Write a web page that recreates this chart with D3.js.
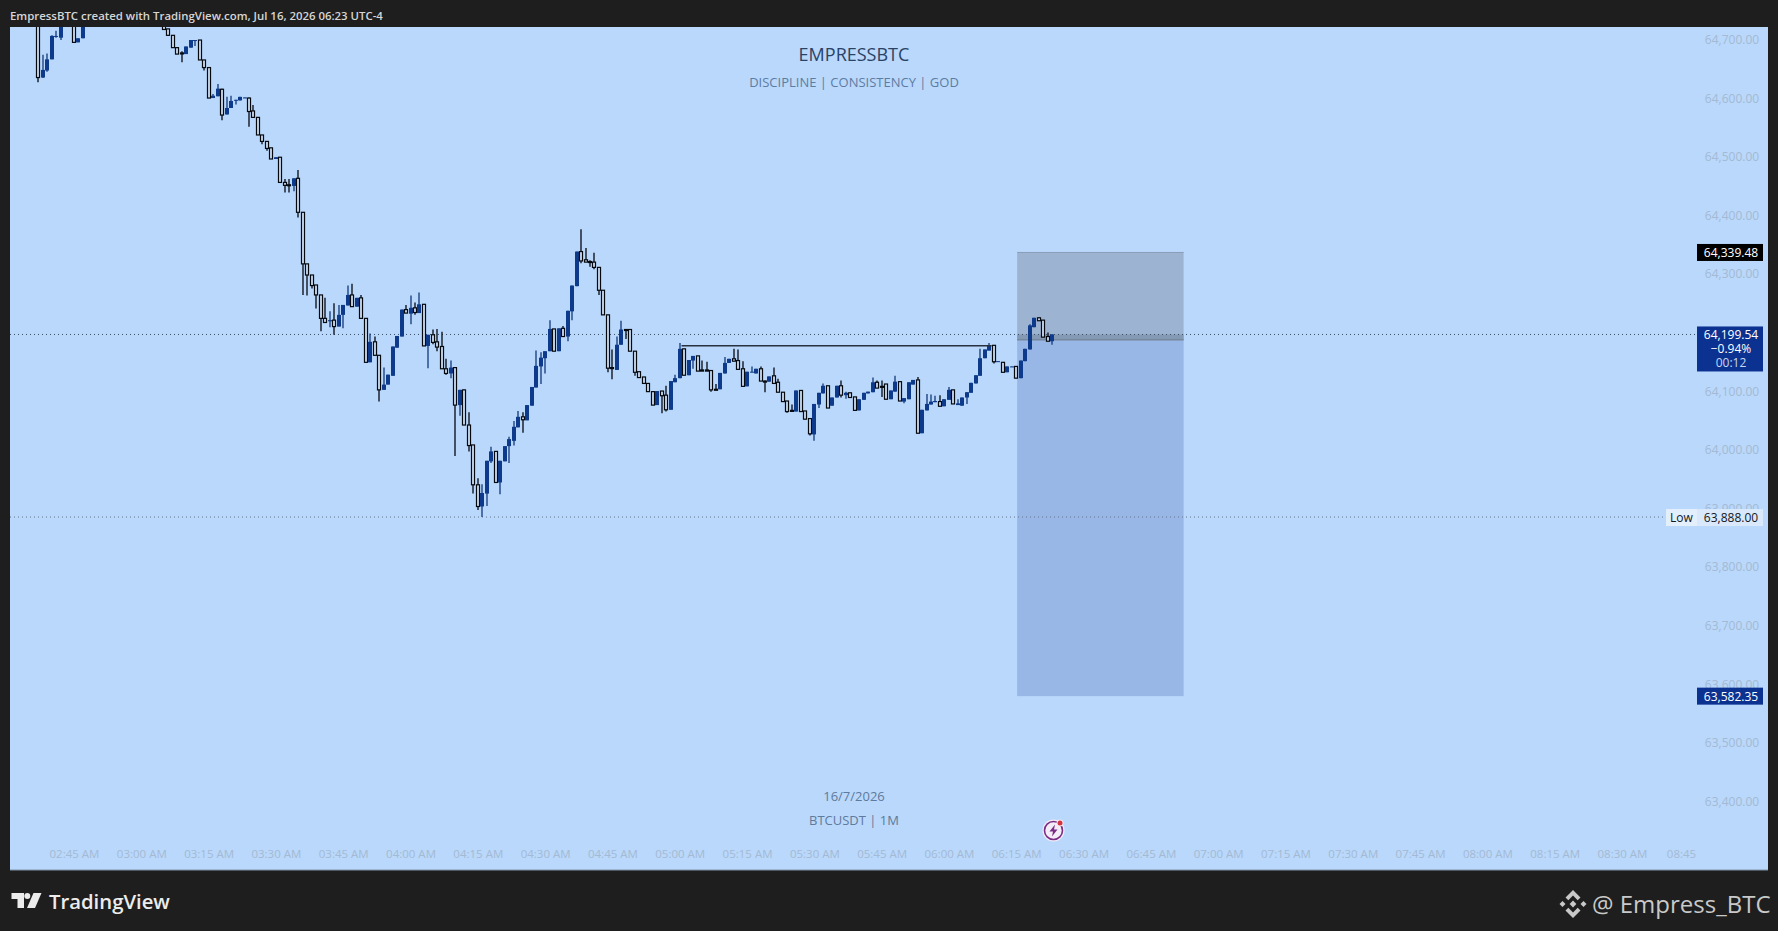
<!DOCTYPE html>
<html>
<head>
<meta charset="utf-8">
<script src="https://cdn.jsdelivr.net/npm/d3@7"></script>
<style>
  html, body { margin: 0; padding: 0; background: #1e1e1e; overflow: hidden; }
  svg { display: block; }
  text { font-family: "Open Sans", "Noto Sans", sans-serif; }
</style>
</head>
<body>
<div id="chart"></div>
<script>
// one entry per 1M candle, first one is 02:37 AM. null = above the visible area
var firstMinute = -8;

var opens = [64790,64638,64650,64669,64708,64706,null,null,64745,64698,64705,
  null,null,null,null,null,null,null,null,null,null,null,null,null,null,null,null,null,
  64735,64721,64710,64689,64680,64678,64689,64701,64702,64668,
  64655,64603,64606,64618,64575,64586,64599,64599,64603,64603,
  64581,64570,64540,64529,64518,64499,64502,64459,64455,64453,
  64466,64408,64320,64301,64284,64267,64227,64222,64224,64213,
  64233,64249,64267,64247,64262,64227,64152,64187,64164,64105,
  64114,64129,64177,64196,64242,64235,64245,64236,64251,64180,
  64199,64187,64179,64141,64133,64143,64079,64105,64045,64011,
  63943,63906,63928,63983,64000,63947,63983,64009,64018,64041,
  64059,64053,64078,64109,64145,64159,64171,64209,64171,64210,
  64196,64239,64282,64341,64327,64324,64323,64314,64275,64233,
  64143,64139,64182,64208,64208,64171,64136,64127,64116,64102,
  64079,64103,64096,64071,64118,64125,64175,64130,64155,64163,
  64139,64139,64138,64106,64106,64133,64151,64158,64155,64141,
  64111,64135,64133,64141,64120,64119,64129,64118,64101,64086,
  64070,64068,64104,64069,64056,64029,64080,64099,64112,64078,
  64092,64112,64096,64100,64093,64070,64088,64099,64101,64118,
  64111,64115,64089,64102,64119,64085,64089,64114,64122,64031,
  64070,64080,64084,64085,64077,64088,64105,64079,64078,64092,
  64100,64116,64129,64159,64172,64181,64153,64152,64135,64144,
  64145,64125,64154,64174,64212,64228,64224,64196,64188];

var highs = [64800,64677,64679,64710,64718,64735,null,null,64750,64705,64750,
  null,null,null,null,null,null,null,null,null,null,null,null,null,null,null,null,null,
  64740,64721,64710,64689,64683,64691,64702,64702,64702,64668,
  64655,64610,64627,64619,64605,64607,64600,64605,64604,64604,
  64591,64570,64540,64529,64518,64502,64502,64465,64465,64466,
  64480,64408,64320,64301,64284,64267,64262,64239,64253,64250,
  64250,64283,64286,64262,64267,64227,64201,64196,64164,64143,
  64131,64179,64197,64242,64250,64266,64254,64271,64251,64199,
  64208,64209,64204,64158,64155,64143,64105,64105,64067,64011,
  63954,63944,63984,64008,64000,63984,64009,64025,64052,64069,
  64067,64079,64110,64172,64169,64171,64224,64209,64210,64214,
  64240,64283,64341,64379,64347,64326,64339,64314,64275,64233,
  64174,64196,64223,64209,64208,64171,64136,64127,64116,64102,
  64103,64103,64112,64120,64131,64185,64175,64156,64163,64163,
  64155,64153,64138,64115,64134,64161,64158,64175,64174,64154,
  64136,64145,64141,64145,64121,64128,64143,64124,64101,64086,
  64080,64104,64104,64069,64056,64081,64100,64116,64112,64092,
  64112,64121,64102,64100,64093,64089,64100,64102,64126,64121,
  64121,64115,64104,64129,64119,64091,64118,64122,64127,64071,
  64098,64097,64095,64096,64089,64110,64105,64089,64092,64101,
  64117,64130,64175,64174,64185,64181,64154,64152,64145,64145,
  64145,64155,64175,64217,64228,64229,64224,64203,64200];

var lows = [64630,64637,64648,64669,64706,64702,null,null,64698,64698,64705,
  null,null,null,null,null,null,null,null,null,null,null,null,null,null,null,null,null,
  64720,64710,64689,64678,64664,64678,64689,64692,64668,64650,
  64603,64603,64606,64565,64575,64586,64592,64599,64603,64554,
  64570,64540,64524,64513,64499,64499,64459,64442,64442,64444,
  64399,64267,64266,64278,64244,64205,64220,64212,64199,64213,
  64210,64249,64247,64247,64227,64152,64152,64164,64085,64105,
  64114,64129,64177,64196,64236,64217,64233,64236,64180,64142,
  64183,64171,64141,64131,64125,63992,64061,64045,64000,63928,
  63900,63888,63907,63980,63947,63927,63983,63980,64010,64041,
  64032,64053,64078,64109,64115,64133,64171,64171,64171,64196,
  64188,64224,64282,64321,64323,64315,64311,64267,64233,64135,
  64123,64139,64182,64192,64171,64129,64126,64116,64102,64079,
  64079,64065,64068,64071,64118,64125,64130,64130,64141,64137,
  64137,64137,64102,64105,64106,64133,64151,64154,64140,64111,
  64111,64135,64133,64120,64101,64119,64116,64101,64085,64066,
  64068,64068,64068,64055,64027,64018,64074,64099,64074,64078,
  64092,64092,64090,64092,64070,64070,64088,64099,64101,64108,
  64093,64089,64089,64102,64086,64082,64089,64114,64031,64031,
  64070,64080,64084,64077,64077,64088,64081,64079,64078,64081,
  64100,64116,64129,64159,64172,64150,64153,64135,64135,64144,
  64125,64125,64154,64174,64212,64223,64195,64188,64182];

var closes = [64638,64651,64669,64709,64709,64729,null,null,64698,64705,64745,
  null,null,null,null,null,null,null,null,null,null,null,null,null,null,null,null,null,
  64720,64710,64689,64678,64680,64691,64702,64702,64668,64655,
  64603,64607,64619,64574,64586,64598,64600,64605,64604,64580,
  64570,64540,64529,64517,64499,64502,64459,64454,64455,64466,
  64408,64320,64301,64283,64267,64227,64220,64224,64213,64233,
  64250,64267,64247,64262,64227,64152,64187,64164,64105,64114,
  64131,64179,64197,64242,64236,64245,64237,64251,64180,64199,
  64186,64178,64141,64133,64143,64079,64105,64045,64010,63943,
  63906,63929,63984,64000,63947,63984,64009,64021,64042,64059,
  64054,64079,64110,64146,64160,64171,64209,64171,64210,64196,
  64240,64283,64341,64325,64323,64323,64314,64275,64233,64142,
  64142,64182,64208,64208,64171,64135,64126,64116,64102,64079,
  64103,64095,64071,64120,64125,64175,64130,64156,64163,64137,
  64137,64137,64105,64106,64134,64151,64158,64154,64140,64111,
  64136,64136,64141,64120,64120,64128,64116,64101,64085,64068,
  64069,64104,64068,64055,64030,64081,64100,64112,64074,64092,
  64112,64096,64100,64092,64070,64089,64100,64102,64118,64108,
  64110,64089,64104,64119,64086,64091,64118,64122,64031,64071,
  64081,64085,64086,64077,64089,64105,64081,64082,64092,64101,
  64117,64130,64159,64174,64181,64153,64154,64135,64145,64145,
  64125,64155,64175,64215,64228,64223,64195,64188,64199.54];

var priceTicks = [64700,64600,64500,64400,64300,64200,64100,64000,63900,63800,63700,63600,63500,63400];
// minutes after 02:45
var timeTicks = [0,15,30,45,60,75,90,105,120,135,150,165,180,195,210,225,240,255,270,285,300,315,330,345,360];
var timeLabels = ["02:45 AM","03:00 AM","03:15 AM","03:30 AM","03:45 AM","04:00 AM","04:15 AM","04:30 AM","04:45 AM",
  "05:00 AM","05:15 AM","05:30 AM","05:45 AM","06:00 AM","06:15 AM","06:30 AM","06:45 AM","07:00 AM","07:15 AM",
  "07:30 AM","07:45 AM","08:00 AM","08:15 AM","08:30 AM","08:45"];

var lastPrice = 64199.54;
var lowPrice = 63888.00;
var stopPrice = 64339.48;
var entryPrice = 64190.6;
var targetPrice = 63582.35;
var positionMinutes = [210.2, 247.3];
var levelPrice = 64180.4;
var levelMinutes = [135.4, 204.5];

var svgWidth = 1778;
var svgHeight = 931;
var panel = { left: 10, right: 1768, top: 27, bottom: 870 };

var svg = d3.select("#chart")
  .append("svg")
  .attr("width", svgWidth)
  .attr("height", svgHeight)
  .attr("viewBox", `0 0 ${svgWidth} ${svgHeight}`);

var xScale = d3.scaleLinear().domain([0, 345]).range([74, 1622]);
var yScale = d3.scaleLinear().domain([63400, 64700]).range([803, 41.2]);

svg.append("defs").append("clipPath")
  .attr("id", "panelClip")
  .append("rect")
  .attr("x", panel.left)
  .attr("y", panel.top)
  .attr("width", panel.right - panel.left)
  .attr("height", panel.bottom - panel.top);

// background panel
svg.append("rect")
  .attr("x", panel.left)
  .attr("y", panel.top)
  .attr("width", panel.right - panel.left)
  .attr("height", panel.bottom - panel.top)
  .attr("fill", "#b9d8fb");
svg.append("line")
  .attr("x1", panel.left).attr("x2", panel.right)
  .attr("y1", panel.bottom).attr("y2", panel.bottom)
  .attr("stroke", "#7f93a8");

// axes
var yAxis = d3.axisRight(yScale)
  .tickValues(priceTicks)
  .tickSize(0)
  .tickPadding(0)
  .tickFormat(d3.format(",.2f"));

var yGroup = svg.append("g")
  .attr("transform", "translate(1732, -1.5)")
  .call(yAxis);
yGroup.select(".domain").remove();
yGroup.selectAll("text")
  .attr("text-anchor", "middle")
  .attr("font-size", "12px")
  .attr("font-family", "'Open Sans', sans-serif")
  .attr("fill", "#a4b9d3");

var xAxis = d3.axisBottom(xScale)
  .tickValues(timeTicks)
  .tickSize(0)
  .tickPadding(0)
  .tickFormat(function(d, i) { return timeLabels[i]; });

var xGroup = svg.append("g")
  .attr("transform", "translate(0, 850)")
  .call(xAxis);
xGroup.select(".domain").remove();
xGroup.selectAll("text")
  .attr("font-size", "11.5px")
  .attr("font-family", "'Open Sans', sans-serif")
  .attr("fill", "#a4b9d3");
// last label is cut by the price scale
xGroup.selectAll("text").filter(function(d) { return d === 360; })
  .attr("text-anchor", "start")
  .attr("x", -23);

// position tool
var posLeft = xScale(positionMinutes[0]);
var posWidth = xScale(positionMinutes[1]) - posLeft;

svg.append("rect")
  .attr("x", posLeft).attr("width", posWidth)
  .attr("y", yScale(stopPrice))
  .attr("height", yScale(entryPrice) - yScale(stopPrice))
  .attr("fill", "#9cb4d2");
svg.append("rect")
  .attr("x", posLeft).attr("width", posWidth)
  .attr("y", yScale(entryPrice))
  .attr("height", yScale(targetPrice) - yScale(entryPrice))
  .attr("fill", "#98b7e7");
svg.append("rect")
  .attr("x", posLeft).attr("width", posWidth)
  .attr("y", yScale(lastPrice))
  .attr("height", yScale(entryPrice) - yScale(lastPrice))
  .attr("fill", "#8499b4");
svg.append("line")
  .attr("x1", posLeft).attr("x2", posLeft + posWidth)
  .attr("y1", yScale(stopPrice)).attr("y2", yScale(stopPrice))
  .attr("stroke", "#8a9db6");
svg.append("line")
  .attr("x1", posLeft).attr("x2", posLeft + posWidth)
  .attr("y1", yScale(entryPrice)).attr("y2", yScale(entryPrice))
  .attr("stroke", "#76879b")
  .attr("stroke-width", 1.5);

// dotted price lines
svg.append("line")
  .attr("x1", panel.left).attr("x2", 1696)
  .attr("y1", yScale(lastPrice)).attr("y2", yScale(lastPrice))
  .attr("stroke", "#3d4f66")
  .attr("stroke-dasharray", "1 3");
svg.append("line")
  .attr("x1", panel.left).attr("x2", 1666)
  .attr("y1", yScale(lowPrice)).attr("y2", yScale(lowPrice))
  .attr("stroke", "#64778f")
  .attr("stroke-dasharray", "1 3");

// candles
var candles = opens.map(function(o, i) {
  return { minute: firstMinute + i, open: o, high: highs[i], low: lows[i], close: closes[i] };
}).filter(function(d) { return d.open !== null; });

var candleGroup = svg.append("g").attr("clip-path", "url(#panelClip)");

// snap to whole pixels so the thin candles stay sharp
function candleX(d) {
  return Math.round(xScale(d.minute));
}

candleGroup.selectAll(".wick")
  .data(candles)
  .enter()
  .append("line")
  .attr("class", "wick")
  .attr("x1", d => candleX(d))
  .attr("x2", d => candleX(d))
  .attr("y1", d => yScale(d.high))
  .attr("y2", d => yScale(d.low))
  .attr("stroke", d => d.close > d.open ? "#12387c" : "#06090e")
  .attr("stroke-width", 1.3);

candleGroup.selectAll(".body")
  .data(candles)
  .enter()
  .append("rect")
  .attr("class", "body")
  .attr("x", d => candleX(d) - (d.close > d.open ? 2 : 1.5))
  .attr("width", d => d.close > d.open ? 4 : 3)
  .attr("y", d => yScale(Math.max(d.open, d.close)))
  .attr("height", d => Math.max(1, Math.abs(yScale(d.open) - yScale(d.close))))
  .attr("fill", d => d.close > d.open ? "#0d3a8a" : "#cfe0f6")
  .attr("stroke", d => d.close > d.open ? "none" : "#06090e")
  .attr("stroke-width", 1.2);

// horizontal level
svg.append("line")
  .attr("x1", xScale(levelMinutes[0])).attr("x2", xScale(levelMinutes[1]))
  .attr("y1", yScale(levelPrice)).attr("y2", yScale(levelPrice))
  .attr("stroke", "#27313f")
  .attr("stroke-width", 1.4);

// price labels on the scale
function priceBox(price, boxTop, boxHeight, fill) {
  svg.append("rect")
    .attr("x", 1697).attr("width", 66)
    .attr("y", boxTop).attr("height", boxHeight)
    .attr("fill", fill);
}
function priceText(label, y, color) {
  svg.append("text")
    .attr("x", 1731).attr("y", y)
    .attr("text-anchor", "middle")
    .attr("dominant-baseline", "central")
    .attr("font-size", "12px")
    .attr("font-weight", 500)
    .attr("fill", color)
    .text(label);
}
var fmtPrice = d3.format(",.2f");

priceBox(stopPrice, yScale(stopPrice) - 8.5, 17, "#000000");
priceText(fmtPrice(stopPrice), yScale(stopPrice), "#ffffff");

priceBox(lastPrice, yScale(lastPrice) - 8, 45, "#0c3291");
priceText(fmtPrice(lastPrice), yScale(lastPrice), "#ffffff");
priceText("\u22120.94%", yScale(lastPrice) + 13.7, "#ffffff");
priceText("00:12", yScale(lastPrice) + 27.7, "#c9d6f0");

priceBox(lowPrice, yScale(lowPrice) - 8, 17, "#d9e9fb");
priceText(fmtPrice(lowPrice), yScale(lowPrice), "#131722");
svg.append("rect")
  .attr("x", 1666).attr("width", 31)
  .attr("y", yScale(lowPrice) - 8).attr("height", 17)
  .attr("fill", "#e4effc");
svg.append("text")
  .attr("x", 1681.5).attr("y", yScale(lowPrice) + 0.5)
  .attr("text-anchor", "middle")
  .attr("dominant-baseline", "central")
  .attr("font-size", "12px")
  .attr("fill", "#131722")
  .text("Low");

priceBox(targetPrice, yScale(targetPrice) - 8.5, 17, "#0c3291");
priceText(fmtPrice(targetPrice), yScale(targetPrice), "#ffffff");

// watermark texts
function centerText(label, y, size, color, weight) {
  svg.append("text")
    .attr("x", 854).attr("y", y)
    .attr("text-anchor", "middle")
    .attr("dominant-baseline", "central")
    .attr("font-size", size)
    .attr("font-weight", weight)
    .attr("fill", color)
    .text(label);
}
centerText("EMPRESSBTC", 54, "18px", "#2a4266", 500);
centerText("DISCIPLINE | CONSISTENCY | GOD", 82, "13px", "#5d7ca3", 400);
centerText("16/7/2026", 796, "13px", "#5f7a9c", 400);
centerText("BTCUSDT | 1M", 820, "13px", "#5f7a9c", 400);

// bolt icon
var icon = svg.append("g").attr("transform", "translate(1053.5, 830.5)");
icon.append("circle").attr("r", 11).attr("fill", "#f4ecf6");
icon.append("circle").attr("r", 9).attr("fill", "none").attr("stroke", "#7b2d86").attr("stroke-width", 1.6);
icon.append("path")
  .attr("d", "M1.5,-6 L-4,1 L-0.5,1 L-1.5,6 L4,-1 L0.5,-1 Z")
  .attr("fill", "#7b2d86");
icon.append("circle").attr("cx", 6.5).attr("cy", -7.5).attr("r", 3.4).attr("fill", "#f4ecf6");
icon.append("circle").attr("cx", 6.5).attr("cy", -7.5).attr("r", 2.5).attr("fill", "#d2353f");

// header and footer
svg.append("text")
  .attr("x", 10).attr("y", 15)
  .attr("dominant-baseline", "central")
  .attr("font-size", "11.4px")
  .attr("font-weight", 600)
  .attr("fill", "#d6d6d6")
  .text("EmpressBTC created with TradingView.com, Jul 16, 2026 06:23 UTC-4");

var logo = svg.append("g").attr("transform", "translate(11.5, 893)").attr("fill", "#ececec");
logo.append("path").attr("d", "M0,0 H12.5 V15 H6 V6 H0 Z");
logo.append("circle").attr("cx", 15.8).attr("cy", 3).attr("r", 3);
logo.append("path").attr("d", "M22,0 H30 L23.5,15 H15.5 Z");

svg.append("text")
  .attr("x", 49).attr("y", 901)
  .attr("dominant-baseline", "central")
  .attr("font-family", "Inter, sans-serif")
  .attr("font-size", "20.3px")
  .attr("font-weight", 600)
  .attr("fill", "#ececec")
  .text("TradingView");

var coin = svg.append("g").attr("transform", "translate(1573, 904)").attr("fill", "#c9c9c9");
coin.append("path").attr("d", "M0,-14 L7.5,-6.5 L4.7,-3.7 L0,-8.4 L-4.7,-3.7 L-7.5,-6.5 Z");
coin.append("path").attr("d", "M0,14 L7.5,6.5 L4.7,3.7 L0,8.4 L-4.7,3.7 L-7.5,6.5 Z");
coin.append("path").attr("d", "M-13.5,0 L-10.5,-3 L-7.5,0 L-10.5,3 Z");
coin.append("path").attr("d", "M13.5,0 L10.5,-3 L7.5,0 L10.5,3 Z");
coin.append("path").attr("d", "M0,-3.4 L3.4,0 L0,3.4 L-3.4,0 Z");

svg.append("text")
  .attr("x", 1592).attr("y", 903)
  .attr("dominant-baseline", "central")
  .attr("font-size", "24px")
  .attr("fill", "#c9c9c9")
  .text("@ Empress_BTC");
</script>
</body>
</html>
